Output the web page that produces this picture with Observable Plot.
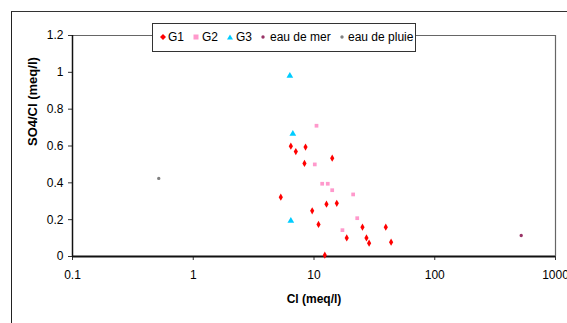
<!DOCTYPE html>
<html>
<head>
<meta charset="utf-8">
<script src="https://cdn.jsdelivr.net/npm/d3@7"></script>
<script src="https://cdn.jsdelivr.net/npm/@observablehq/plot@0.6"></script>
<style>
  html, body { margin: 0; padding: 0; background: #fff; overflow: hidden; }
  #wrap { position: relative; width: 567px; height: 323px; overflow: hidden; font-family: "Liberation Sans", Arial, sans-serif; }
  #border { position: absolute; left: 11px; top: 11px; width: 700px; height: 400px; border-left: 1.5px solid #222; border-top: 1.5px solid #333; }
  #legend { position: absolute; left: 152px; top: 22.5px; width: 262px; height: 27px; background: #fff; border: 1px solid #333; font-size: 12px; color: #000; white-space: nowrap; }
  #legend .m { position: absolute; top: 10px; }
  #legend .t { position: absolute; top: 6px; line-height: 14px; }
  #chart { position: absolute; left: 0; top: 0; }
</style>
</head>
<body>
<div id="wrap">
  <div id="border"></div>
  <div id="chart"></div>
  <div id="legend"></div>
</div>
<script>
// Data
const g1Cl  = [6.43, 7.07, 8.51, 8.34, 14.15, 5.31, 9.66, 12.69, 15.44, 10.9, 25.2, 39.3, 18.67, 27.2, 28.6, 43.5, 12.29];
const g1Rat = [0.599, 0.570, 0.594, 0.505, 0.534, 0.322, 0.248, 0.284, 0.289, 0.174, 0.159, 0.159, 0.101, 0.101, 0.072, 0.078, 0.007];
const g2Cl  = [10.49, 10.15, 11.69, 13.0, 14.15, 21.1, 22.8, 17.2];
const g2Rat = [0.710, 0.500, 0.395, 0.395, 0.360, 0.337, 0.208, 0.143];
const g3Cl  = [6.31, 6.68, 6.43];
const g3Rat = [0.981, 0.666, 0.194];
const merCl = [520];
const merRat = [0.114];
const pluieCl = [0.518];
const pluieRat = [0.424];
const xTicks = [0.1, 1, 10, 100, 1000];
const yTicks = [0, 0.2, 0.4, 0.6, 0.8, 1, 1.2];
const seriesNames = ["G1", "G2", "G3", "eau de mer", "eau de pluie"];
const seriesColors = ["#ff0000", "#ff99cc", "#00ccff", "#993366", "#808080"];
const seriesSymbols = ["diamond", "square", "triangle", "circle", "circle"];
const seriesR = [2.2, 2.1, 2.5, 1.7, 1.7];

const toRows = (xs, ys) => xs.map((x, i) => ({x, y: ys[i]}));
const groups = [toRows(g1Cl, g1Rat), toRows(g2Cl, g2Rat), toRows(g3Cl, g3Rat), toRows(merCl, merRat), toRows(pluieCl, pluieRat)];

const dotMarks = groups.map((rows, i) => Plot.dot(rows, {
  x: "x", y: "y", symbol: () => seriesSymbols[i], fill: seriesColors[i], stroke: "none", r: seriesR[i]
}));

const chart = Plot.plot({
  width: 567,
  height: 323,
  marginLeft: 72,
  marginRight: 12,
  marginTop: 35,
  marginBottom: 67,
  style: { fontFamily: "'Liberation Sans', Arial, sans-serif", fontSize: "12px", background: "transparent", color: "#000" },
  x: { type: "log", domain: [0.1, 1000] },
  y: { domain: [0, 1.2] },
  symbol: { type: "identity" },
  marks: [
    Plot.ruleY([1.2], { stroke: "#666", strokeWidth: 1.2 }),
    Plot.ruleX([1000], { stroke: "#666", strokeWidth: 1.2 }),
    Plot.axisY({ ticks: yTicks, tickSize: 4, tickPadding: 5, tickFormat: d => String(d), label: null, fontSize: 12, stroke: "#333" }),
    Plot.axisX({ ticks: xTicks, tickSize: 4, tickPadding: 10, tickFormat: d => String(d), label: null, fontSize: 12, stroke: "#333" }),
    Plot.ruleX([0.1], { stroke: "#111", strokeWidth: 1.5 }),
    Plot.ruleY([0], { stroke: "#111", strokeWidth: 2 }),
    ...dotMarks,
    Plot.text(["Cl (meq/l)"], { frameAnchor: "bottom", dy: 46, fontWeight: "bold", fontSize: 12 }),
    Plot.text(["SO4/Cl (meq/l)"], { frameAnchor: "left", dx: -40, rotate: -90, fontWeight: "bold", fontSize: 13 })
  ]
});
document.getElementById("chart").appendChild(chart);

// Legend (positions relative to legend box)
const legend = document.getElementById("legend");
const markerX = [7, 40, 74, 107, 186];
const textX = [15, 49, 83, 117, 195];
const symbolPaths = {
  diamond: '<path d="M3,0 L6,3 L3,6 L0,3Z"/>',
  square: '<rect x="0.5" y="0.5" width="5" height="5"/>',
  triangle: '<path d="M3,0.5 L6,5.5 L0,5.5Z"/>',
  circle: '<circle cx="3" cy="3" r="1.7"/>'
};
seriesNames.forEach((name, i) => {
  const m = document.createElement("span");
  m.className = "m";
  m.style.left = markerX[i] + "px";
  m.innerHTML = `<svg width="6" height="6" style="display:block" fill="${seriesColors[i]}">${symbolPaths[seriesSymbols[i]]}</svg>`;
  legend.appendChild(m);
  const t = document.createElement("span");
  t.className = "t";
  t.style.left = textX[i] + "px";
  t.textContent = name;
  legend.appendChild(t);
});
</script>
</body>
</html>
